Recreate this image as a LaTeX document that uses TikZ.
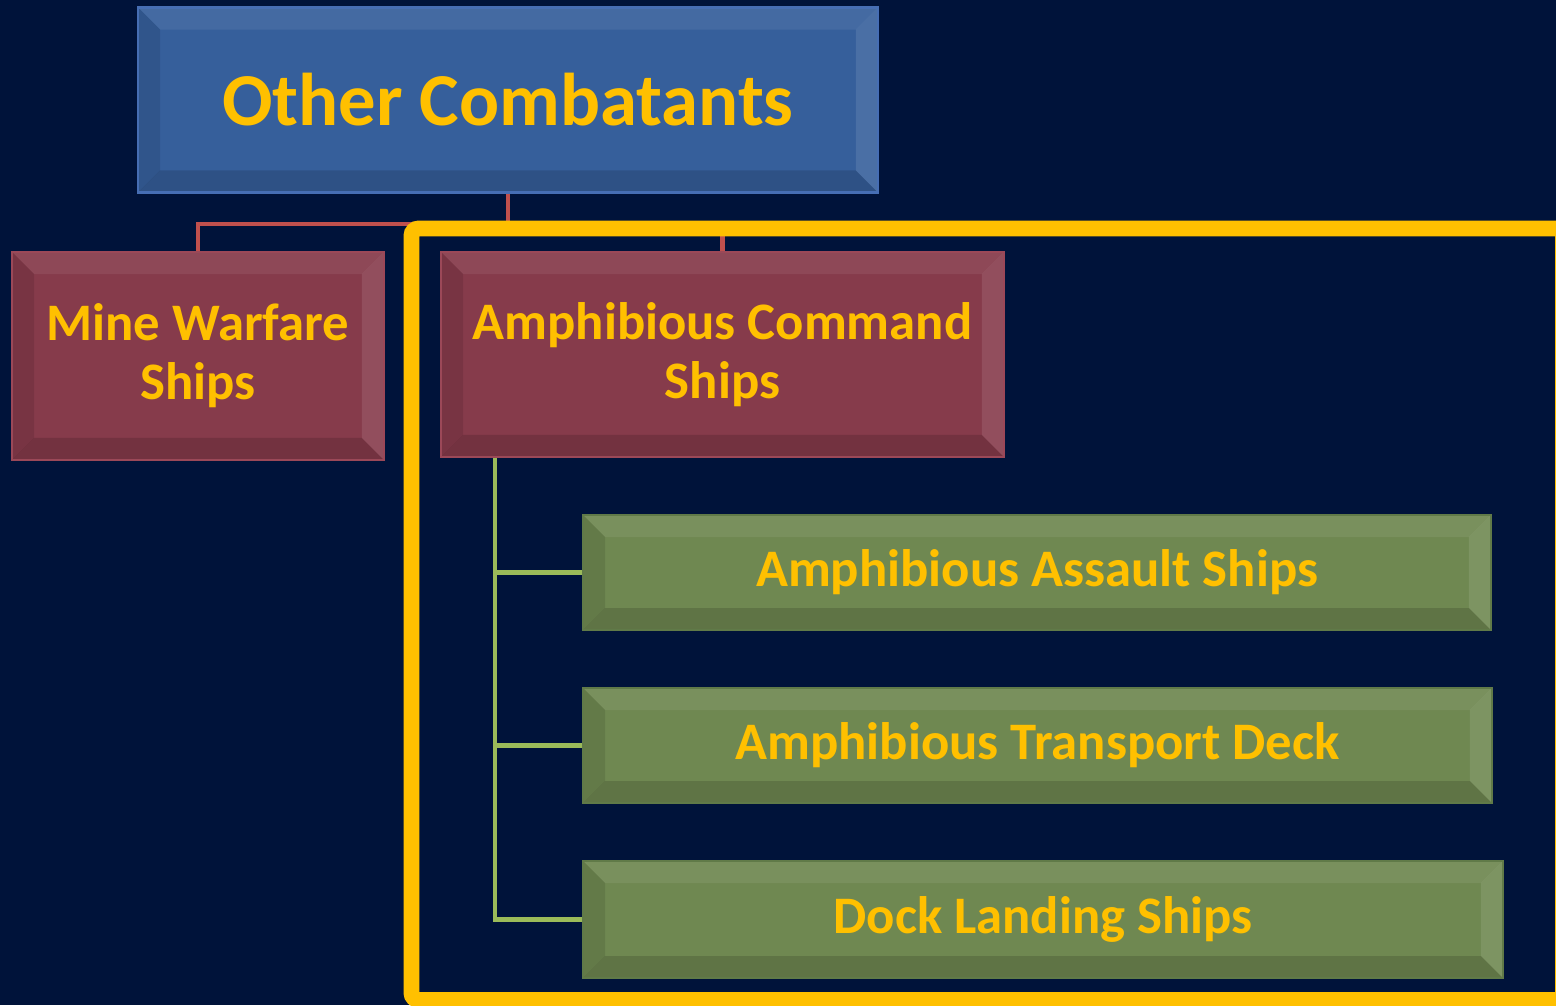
\documentclass[tikz,border=0pt]{standalone}
\usepackage{fontspec}
\setmainfont{Carlito}
\usepackage{xcolor}
\usetikzlibrary{calc,positioning}
\definecolor{navy}{RGB}{0,19,58}
\definecolor{gold}{RGB}{255,192,0}
\definecolor{topfill}{RGB}{54,95,155}
\definecolor{topline}{RGB}{70,110,180}
\definecolor{redfill}{RGB}{134,59,75}
\definecolor{redline}{RGB}{155,72,88}
\definecolor{greenfill}{RGB}{111,136,81}
\definecolor{greenline}{RGB}{96,122,72}
\definecolor{redlink}{RGB}{192,80,77}
\definecolor{greenlink}{RGB}{155,187,89}
\begin{document}
\begin{tikzpicture}[x=0.02cm,y=-0.02cm,
	bevel/.style={path picture={
		\coordinate (pnw) at (path picture bounding box.north west);
		\coordinate (pne) at (path picture bounding box.north east);
		\coordinate (psw) at (path picture bounding box.south west);
		\coordinate (pse) at (path picture bounding box.south east);
		\fill[white,opacity=.07] (pnw) -- (pne) -- ([shift={(-0.44cm,-0.44cm)}]pne) -- ([shift={(0.44cm,-0.44cm)}]pnw) -- cycle;
		\fill[white,opacity=.1] (pne) -- (pse) -- ([shift={(-0.44cm,0.44cm)}]pse) -- ([shift={(-0.44cm,-0.44cm)}]pne) -- cycle;
		\fill[black,opacity=.14] (psw) -- (pse) -- ([shift={(-0.44cm,0.44cm)}]pse) -- ([shift={(0.44cm,0.44cm)}]psw) -- cycle;
		\fill[black,opacity=.1] (pnw) -- (psw) -- ([shift={(0.44cm,0.44cm)}]psw) -- ([shift={(0.44cm,-0.44cm)}]pnw) -- cycle;
	}},
	box/.style={draw,line width=1.5pt,bevel,align=center,text=gold,font=\bfseries,inner sep=0pt},
	topbox/.style={box,fill=topfill,draw=topline,font=\bfseries\fontsize{42.5}{50}\selectfont},
	redbox/.style={box,fill=redfill,draw=redline,font=\bfseries\fontsize{30}{33.5}\selectfont},
	greenbox/.style={box,fill=greenfill,draw=greenline,font=\bfseries\fontsize{30}{36}\selectfont},
	redwire/.style={draw=redlink,line width=2.3pt},
	greenwire/.style={draw=greenlink,line width=2.3pt}]
		\fill[navy] (0,0) rectangle (1556,1005);
		\useasboundingbox (0,0) rectangle (1556,1005);
		\node[topbox,minimum width=14.8cm,minimum height=3.7cm] (top) at (508,100) {Other Combatants};
		\node[redbox,minimum width=7.44cm,minimum height=4.16cm] (mine) at (198,356) {Mine Warfare\\Ships};
		\node[redbox,minimum width=11.26cm,minimum height=4.1cm] (command) at (722.5,354.5) {Amphibious Command\\Ships};
		\node[greenbox,minimum width=18.16cm,minimum height=2.3cm] (assault) at (1037,572.5) {Amphibious Assault Ships};
		\node[greenbox,minimum width=18.18cm,minimum height=2.3cm] (transport) at (1037.5,745.5) {Amphibious Transport Deck};
		\node[greenbox,minimum width=18.4cm,minimum height=2.34cm] (dock) at (1043,919.5) {Dock Landing Ships};
		\coordinate (split) at (508,224);
		\draw[redwire] (top.south) -- (split) -| (mine.north);
		\draw[redwire] (split) -| (command.north);
		\draw[gold,line width=9pt,rounded corners=4pt] (411.5,228.5) rectangle (1563,1000);
		\coordinate (trunk) at ([xshift=1.1cm]command.south west);
		\draw[greenwire] (trunk) |- (assault.west);
		\draw[greenwire] (trunk) |- (transport.west);
		\draw[greenwire] (trunk) |- (dock.west);
\end{tikzpicture}
\end{document}
